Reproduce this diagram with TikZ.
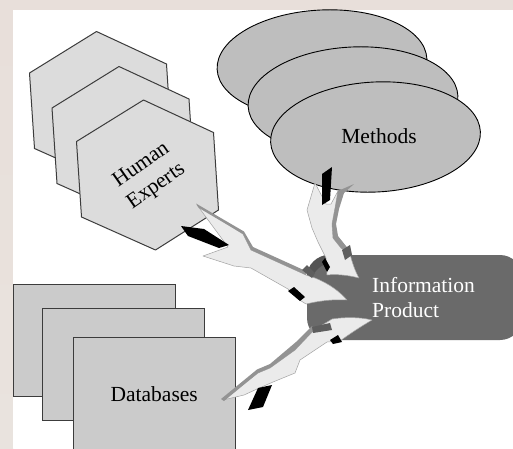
\documentclass[tikz,border=0pt]{standalone}
\usepackage{fontspec}
\setmainfont{Liberation Serif}
\definecolor{bgA}{HTML}{E8DFDA}
\definecolor{bgB}{HTML}{EFEDE4}
\definecolor{bgC}{HTML}{E9E3DE}
\definecolor{hexgray}{HTML}{DCDCDC}
\definecolor{edgegray}{HTML}{3C3C3C}
\definecolor{ovalgray}{HTML}{BEBEBE}
\definecolor{dbgray}{HTML}{CBCBCB}
\definecolor{prodgray}{HTML}{6A6A6A}
\definecolor{prodshade}{HTML}{545454}
\definecolor{ribbonlight}{HTML}{EBEBEB}
\definecolor{ribbonedge}{HTML}{A2A2A2}
\definecolor{sidegray}{HTML}{939393}
\definecolor{foldgray}{HTML}{5E5E5E}
\begin{document}
\begin{tikzpicture}[x=1pt,y=-1pt,
  hexbox/.style={fill=hexgray, draw=edgegray, line width=1pt, line join=round},
  ovalbox/.style={fill=ovalgray, draw=black, line width=0.9pt},
  dbbox/.style={fill=dbgray, draw=edgegray, line width=1pt, inner sep=0pt,
                minimum width=162pt, minimum height=112pt},
  ribbon/.style={fill=ribbonlight, draw=ribbonedge, line width=0.5pt, line join=round},
  ribbonside/.style={fill=sidegray},
  ribbonfold/.style={fill=foldgray},
  ribbonback/.style={fill=black},
  lbl/.style={font=\fontsize{21.5}{26}\selectfont, inner sep=0pt}
]
% backdrop and white drawing area
\useasboundingbox (0,0) rectangle (513,448);
\fill[bgA] (0,0) rectangle (513,10);
\shade[top color=bgA, middle color=bgB, bottom color=bgC] (0,10) rectangle (13,448);
\fill[white] (13,10) rectangle (513,448);

% stacked databases
\node[dbbox, anchor=north west] (db3) at (13.3,284.3) {};
\node[dbbox, anchor=north west] (db2) at (41.7,308.3) {};
\node[dbbox, anchor=north west, lbl] (databases) at (72.7,337.3) {Databases};

% stacked hexagons (human experts)
\foreach \cx/\cy in {100.5/106.5, 123/141.5, 147.5/175}{
  \draw[hexbox, shift={(\cx,\cy)}] (-4,-75) -- (66,-42.5) -- (71,35) -- (8,75)
        -- (-66,42) -- (-71,-33.5) -- cycle;
}
\node[lbl, align=center, rotate=35] (experts) at (149,176) {Human\\Experts};

% stacked ellipses (methods)
\draw[ovalbox, rotate around={3:(322,64)}] (322,64) ellipse [x radius=105, y radius=54];
\draw[ovalbox, rotate around={3:(353,101)}] (353,101) ellipse [x radius=105, y radius=54];
\draw[ovalbox, rotate around={3:(375.5,137)}] (375.5,137) ellipse [x radius=105, y radius=55];
\node[lbl] (methods) at (379,136.5) {Methods};

% information product box
\fill[prodgray, rounded corners=22pt] (307,255) rectangle (522,340);
\begin{scope}
  \clip[rounded corners=22pt] (307,255) rectangle (522,340);
  \fill[prodshade] (305,280) .. controls (306,264) and (318,254) .. (338,253)
       -- (346,253) -- (342,260) -- (332,262) .. controls (322,264) and (314,270) .. (311,280) -- cycle;
\end{scope}
\node[lbl, text=white, anchor=base west] (info1) at (372,292) {Information};
\node[lbl, text=white, anchor=base west] (info2) at (372,317) {Product};

% ribbon arrow from methods
\filldraw[ribbon] (315,183) -- (326,204) -- (331,204) -- (338,191) -- (335,208) -- (332,224)
  -- (333,238) -- (341,248) -- (350,254) .. controls (352,262) and (355,271) .. (359,278)
  .. controls (348,275) and (336,274) .. (327,275) -- (326,258) -- (318,242) -- (312,228)
  -- (307,210) -- cycle;
\fill[ribbonside] (354,184) -- (344,193) -- (339,209) -- (336,224) -- (338,236) -- (346,246)
  -- (349,250) -- (345,251) -- (341,248) -- (333,238) -- (332,224) -- (335,208) -- (338,191) -- cycle;
\fill[ribbonfold] (342,250) -- (350,245) -- (352,255) -- (345,260) -- cycle;
\fill[ribbonback] (322,174) -- (332,167) -- (330,200) -- (322,205) -- cycle;
\fill[ribbonback] (322,262) -- (325,258) -- (330,267) -- (327,272) -- cycle;

% ribbon arrow from human experts
\filldraw[ribbon] (197,205) -- (243,234) -- (251,250) -- (306,275) -- (315,278)
  .. controls (330,284) and (340,292) .. (347,300)
  .. controls (333,299) and (318,301) .. (306,304) -- (298,299) -- (288,289) -- (251,268)
  -- (234,266) -- (203,256) -- (228,247) -- (200,209) -- cycle;
\fill[ribbonside] (196,203.5) -- (244,231.5) -- (253,247) -- (307,271.5) -- (306,275) -- (251,250)
  -- (243,234) -- (199,208) -- cycle;
\fill[ribbonfold] (302,270) -- (307,265) -- (315,273) -- (312,278) -- cycle;
\fill[ribbonback] (181,226) -- (204,229) -- (229,245) -- (219,248) -- (188,236) -- cycle;
\fill[ribbonback] (288,291) -- (294,287) -- (305,297) -- (300,301) -- cycle;

% ribbon arrow from databases
\filldraw[ribbon] (223,400) -- (258,373) -- (270,368) -- (295,350) -- (314,330) -- (332,319)
  .. controls (345,317) and (360,317) .. (372,320)
  .. controls (360,327) and (348,335) .. (340,341) -- (327,342) -- (300,360) -- (295,373)
  -- (273,382) -- (257,389) -- (244,395) -- cycle;
\fill[ribbonside] (221,399) -- (257,369.5) -- (270,364) -- (296,342) -- (312,326) -- (314,330)
  -- (295,350) -- (270,368) -- (258,373) -- (224,401) -- cycle;
\fill[ribbonfold] (312,327) -- (330,323) -- (332,330) -- (313,333) -- cycle;
\fill[ribbonback] (248,410) -- (258,388) -- (272,385) -- (263,407) -- cycle;
\fill[ribbonback] (330,340) -- (338,335) -- (342,342) -- (333,344) -- cycle;
\end{tikzpicture}
\end{document}
